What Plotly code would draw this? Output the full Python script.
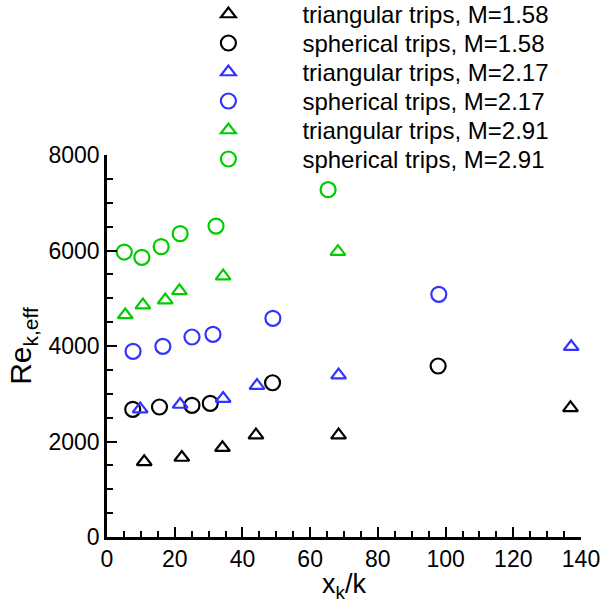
import plotly.graph_objects as go

# ---- data ----
tri158_x = [11.0, 22.1, 34.1, 44.0, 68.4, 136.9]
tri158_y = [1575, 1665, 1870, 2135, 2135, 2705]
sph158_x = [7.6, 15.5, 25.1, 30.5, 48.9, 97.8]
sph158_y = [2674, 2722, 2758, 2800, 3230, 3581]
tri217_x = [9.8, 21.6, 34.3, 44.3, 68.4, 137.1]
tri217_y = [2680, 2775, 2900, 3170, 3390, 3985]
sph217_x = [7.7, 16.5, 25.1, 31.3, 49.0, 98.0]
sph217_y = [3889, 3993, 4188, 4245, 4580, 5082]
tri291_x = [5.4, 10.6, 17.2, 21.4, 34.3, 68.2]
tri291_y = [4650, 4855, 4960, 5155, 5465, 5975]
sph291_x = [5.1, 10.3, 16.0, 21.6, 32.2, 65.3]
sph291_y = [5968, 5857, 6081, 6353, 6512, 7274]

series = [
    ("triangular trips, M=1.58", tri158_x, tri158_y, "triangle-up-open", "#000000"),
    ("spherical trips, M=1.58", sph158_x, sph158_y, "circle-open", "#000000"),
    ("triangular trips, M=2.17", tri217_x, tri217_y, "triangle-up-open", "#3333FF"),
    ("spherical trips, M=2.17", sph217_x, sph217_y, "circle-open", "#3333FF"),
    ("triangular trips, M=2.91", tri291_x, tri291_y, "triangle-up-open", "#00CC00"),
    ("spherical trips, M=2.91", sph291_x, sph291_y, "circle-open", "#00CC00"),
]

FONT = "Liberation Sans, Arial, Helvetica, sans-serif"

fig = go.Figure()
layout_legends = {}
row0 = 1.368     # paper y of first legend row
drow = 29 / 382  # row spacing
for i, (name, xs, ys, sym, col) in enumerate(series):
    lname = "legend" if i == 0 else f"legend{i+1}"
    size = 13 if sym.startswith("triangle") else 15
    fig.add_trace(go.Scatter(
        x=xs, y=ys, mode="markers", name=name, legend=lname,
        marker=dict(symbol=sym, size=size, color=col, line=dict(width=2.2, color=col)),
        cliponaxis=False,
    ))
    layout_legends[lname] = dict(
        x=0.1, y=row0 - i * drow, xanchor="left", yanchor="middle",
        itemwidth=138, bgcolor="rgba(0,0,0,0)", borderwidth=0,
        font=dict(family=FONT, size=24, color="black"),
    )

fig.update_layout(
    width=602, height=603,
    margin=dict(l=107, r=21, t=155, b=66, autoexpand=False),
    paper_bgcolor="white", plot_bgcolor="white",
    font=dict(family=FONT, size=23, color="black"),
    showlegend=True,
    **layout_legends,
)

fig.update_xaxes(
    range=[0, 140], dtick=20, tick0=0,
    showline=True, linecolor="black", linewidth=2.5,
    ticks="inside", ticklen=10, tickwidth=2, tickcolor="black",
    minor=dict(dtick=5, ticks="inside", ticklen=6, tickwidth=1.5, tickcolor="black"),
    showgrid=False, zeroline=False, mirror=False,
    tickfont=dict(family=FONT, size=23, color="black"),
    title=dict(text="x<sub>k</sub>/k", font=dict(family=FONT, size=27, color="black"), standoff=0),
)
fig.update_yaxes(
    range=[0, 8000], dtick=2000, tick0=0,
    showline=True, linecolor="black", linewidth=2.5,
    ticks="inside", ticklen=10, tickwidth=2, tickcolor="black",
    minor=dict(dtick=500, ticks="inside", ticklen=6, tickwidth=1.5, tickcolor="black"),
    showgrid=False, zeroline=False, mirror=False,
    tickfont=dict(family=FONT, size=23, color="black"),
    title=dict(text="Re<sub>k,eff</sub>", font=dict(family=FONT, size=30, color="black"), standoff=8),
)

fig.write_html("out.html", config={"displayModeBar": False},
               post_script="document.body.style.margin='0';")
